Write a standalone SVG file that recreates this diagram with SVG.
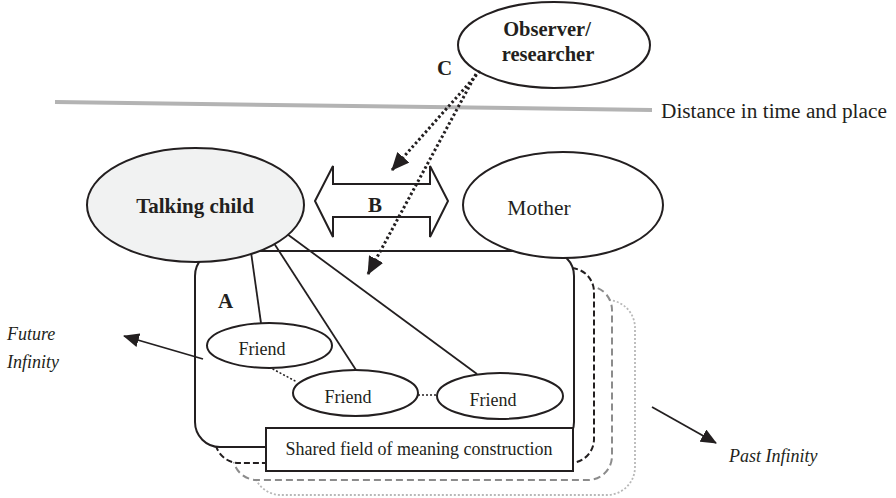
<svg xmlns="http://www.w3.org/2000/svg" width="896" height="498" viewBox="0 0 896 498">
<defs>
<style>
.t{font-family:"Liberation Serif","Times New Roman",serif;fill:#231f20}
.b{font-weight:bold}
.i{font-style:italic}
.n{stroke:#231f20;stroke-width:2;fill:#fff}
.ln{stroke:#231f20;stroke-width:1.8;fill:none}
.dot{stroke:#231f20;stroke-width:3;stroke-dasharray:2.5 2.5;fill:none}
</style>
<marker id="ah" markerWidth="16" markerHeight="14" refX="15" refY="7" orient="auto" markerUnits="userSpaceOnUse">
<path d="M0,0 L16,7 L0,14 Z" fill="#231f20"/>
</marker>
<marker id="ah2" markerWidth="18" markerHeight="16" refX="17" refY="8" orient="auto" markerUnits="userSpaceOnUse">
<path d="M0,0 L18,8 L0,16 Z" fill="#231f20"/>
</marker>
</defs>
<rect width="896" height="498" fill="#fff"/>

<g id="field-layers">
<rect x="253" y="300" width="382" height="195" rx="28" fill="#fff" stroke="#b8b8b8" stroke-width="1.8" stroke-dasharray="2 2"/>
<rect x="233" y="286" width="379" height="194" rx="24" fill="#fff" stroke="#8c8c8c" stroke-width="2" stroke-dasharray="7 4"/>
<rect x="215" y="268" width="379" height="195" rx="24" fill="#fff" stroke="#231f20" stroke-width="2" stroke-dasharray="6 3"/>
</g>
<g id="field-A">
<rect x="195" y="251" width="379" height="196" rx="25" class="n"/>
<text class="t b" x="218" y="308" font-size="21">A</text>
</g>
<g id="shared-field">
<rect x="266" y="428" width="307" height="43" class="n"/>
<text class="t" x="419" y="455" font-size="18" text-anchor="middle">Shared field of meaning construction</text>
</g>

<g id="connectors">
<line class="ln" x1="250" y1="245" x2="261" y2="323"/>
<line class="ln" x1="268" y1="234" x2="356" y2="370"/>
<line class="ln" x1="283" y1="231" x2="477" y2="374"/>
<line x1="269" y1="367" x2="297" y2="382" stroke="#231f20" stroke-width="1.5" stroke-dasharray="2 2"/>
<line x1="418" y1="395" x2="437" y2="395" stroke="#231f20" stroke-width="1.5" stroke-dasharray="2 2"/>
</g>

<g id="friend1">
<ellipse cx="269.5" cy="345.5" rx="62.5" ry="22.5" class="n"/>
<text class="t" x="262" y="355" font-size="18" text-anchor="middle">Friend</text>
</g>
<g id="friend2">
<ellipse cx="355.5" cy="393" rx="62.5" ry="23" class="n"/>
<text class="t" x="348" y="403" font-size="18" text-anchor="middle">Friend</text>
</g>
<g id="friend3">
<ellipse cx="500" cy="396" rx="63" ry="23" class="n"/>
<text class="t" x="493" y="406" font-size="18" text-anchor="middle">Friend</text>
</g>

<g id="talking-child">
<ellipse cx="195.5" cy="205" rx="108.5" ry="57" class="n" style="fill:#f1f2f2"/>
<text class="t b" x="195" y="213" font-size="21" text-anchor="middle">Talking child</text>
</g>
<g id="mother">
<ellipse cx="563" cy="205" rx="100" ry="53" class="n"/>
<text class="t" x="539" y="215" font-size="21.5" text-anchor="middle">Mother</text>
</g>
<g id="B">
<polygon points="315,201 333,166 333,184 430,184 430,166 448,201 430,237 430,217 333,217 333,237" class="n"/>
<text class="t b" x="375" y="212" font-size="21" text-anchor="middle">B</text>
</g>
<g id="observer">
<ellipse cx="554" cy="45" rx="96" ry="43" class="n"/>
<text class="t b" x="547" y="36" font-size="20.5" text-anchor="middle">Observer/</text>
<text class="t b" x="548" y="61" font-size="20.5" text-anchor="middle">researcher</text>
</g>

<g id="distance">
<line x1="55" y1="102" x2="652" y2="110" stroke="#b3b3b3" stroke-width="4"/>
<text class="t" x="661" y="118" font-size="21.3">Distance in time and place</text>
</g>
<g id="C-arrows">
<text class="t b" x="437" y="75" font-size="21">C</text>
<line class="dot" x1="480" y1="71" x2="392" y2="170" marker-end="url(#ah2)"/>
<line class="dot" x1="476" y1="74" x2="368" y2="274" marker-end="url(#ah2)"/>
</g>
<g id="future">
<line class="ln" x1="203" y1="359" x2="124" y2="336" marker-end="url(#ah)"/>
<text class="t i" x="7" y="340" font-size="18">Future</text>
<text class="t i" x="7" y="368" font-size="18">Infinity</text>
</g>
<g id="past">
<line class="ln" x1="652" y1="407" x2="716" y2="443" marker-end="url(#ah)"/>
<text class="t i" x="729" y="462" font-size="18">Past Infinity</text>
</g>
</svg>
